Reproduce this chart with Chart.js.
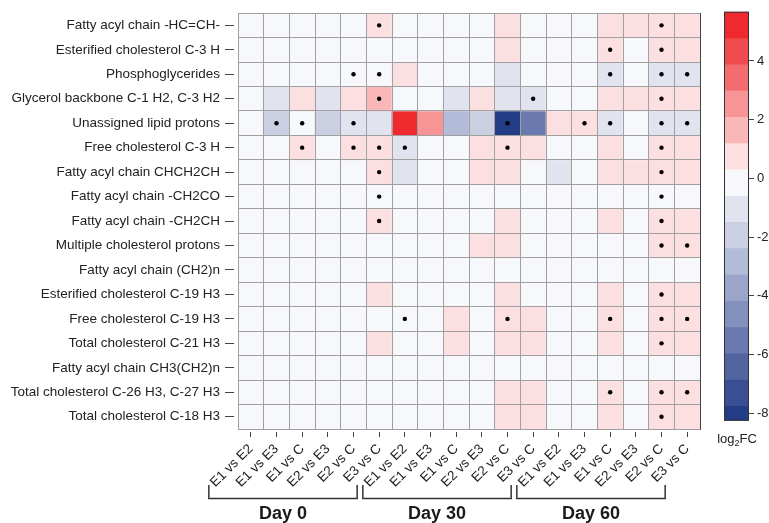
<!DOCTYPE html>
<html>
<head>
<meta charset="utf-8">
<title>log2FC heatmap</title>
<script src="https://cdn.jsdelivr.net/npm/chart.js@4.4.1/dist/chart.umd.min.js"></script>
<style>
  body { margin: 0; background: #fff; }
  #wrap { position: relative; width: 769px; height: 523px; overflow: hidden; font-family: "Liberation Sans", Arial, sans-serif; }
  #heat { position: absolute; left: 0; top: 0; }
  #scaleBar { position: absolute; left: 724px; top: 0; }
  #scaleTitle { position: absolute; left: 704px; width: 66px; top: 431px; text-align: center; font-size: 13px; color: #222; }
  #scaleTitle sub { font-size: 9px; vertical-align: -3px; line-height: 0; }
</style>
</head>
<body>
<div id="wrap">
  <canvas id="heat" width="769" height="523"></canvas>
  <canvas id="scaleBar" width="45" height="523"></canvas>
  <div id="scaleTitle">log<sub>2</sub>FC</div>
</div>
<script>
const rowNames = [
  "Fatty acyl chain -HC=CH-",
  "Esterified cholesterol C-3 H",
  "Phosphoglycerides",
  "Glycerol backbone C-1 H2, C-3 H2",
  "Unassigned lipid protons",
  "Free cholesterol C-3 H",
  "Fatty acyl chain CHCH2CH",
  "Fatty acyl chain -CH2CO",
  "Fatty acyl chain -CH2CH",
  "Multiple cholesterol protons",
  "Fatty acyl chain (CH2)n",
  "Esterified cholesterol C-19 H3",
  "Free cholesterol C-19 H3",
  "Total cholesterol C-21 H3",
  "Fatty acyl chain CH3(CH2)n",
  "Total cholesterol C-26 H3, C-27 H3",
  "Total cholesterol C-18 H3",
];

const days = ["Day 0", "Day 30", "Day 60"];
const comparisons = ["E1 vs E2", "E1 vs E3", "E1 vs C", "E2 vs E3", "E2 vs C", "E3 vs C"];

// log2 fold change, one row per lipid signal, 6 comparisons per day
const log2fc = [
  [0, 0, 0, 0, 0, 0.8,        0, 0, 0, 0, 0.8, 0,            0, 0, 0.8, 0.8, 0.9, 0.8],
  [0, 0, 0, 0, 0, 0,          0, 0, 0, 0, 0.7, 0,            0, 0, 0.8, 0, 0.9, 0.8],
  [0, 0, 0, 0, 0, 0,          0.7, 0, 0, 0, -0.9, 0,         0, 0, -0.9, 0, -0.9, -0.9],
  [0, -0.9, 0.7, -0.9, 0.8, 1.6, 0, 0, -0.9, 0.7, -1.0, -0.8, 0, 0, 0.8, 0.8, 0.9, 0.8],
  [0, -1.9, 0, -1.9, -1.0, -1.0, 5.3, 2.5, -2.8, -1.9, -8.0, -5.5, 0.7, 0.7, -0.9, 0, -0.9, -0.9],
  [0, 0, 0.7, 0, 0.8, 0.8,    -0.9, 0, 0, 0.7, 0.8, 0.7,     0, 0, 0.8, 0, 0.9, 0.8],
  [0, 0, 0, 0, 0, 0.8,        -0.9, 0, 0, 0.7, 0.8, 0,       -0.8, 0, 0.8, 0.8, 0.9, 0.8],
  [0, 0, 0, 0, 0, 0,          0, 0, 0, 0, 0, 0,              0, 0, 0, 0, 0, 0],
  [0, 0, 0, 0, 0, 0.8,        0, 0, 0, 0, 0.7, 0,            0, 0, 0.7, 0, 0.9, 0.8],
  [0, 0, 0, 0, 0, 0,          0, 0, 0, 0.7, 0.7, 0,          0, 0, 0, 0, 0.9, 0.9],
  [0, 0, 0, 0, 0, 0,          0, 0, 0, 0, 0, 0,              0, 0, 0, 0, 0, 0],
  [0, 0, 0, 0, 0, 0.7,        0, 0, 0, 0, 0.7, 0,            0, 0, 0.7, 0, 0.9, 0.8],
  [0, 0, 0, 0, 0, 0,          0, 0, 0.7, 0, 0.8, 0.7,        0, 0, 0.8, 0, 0.9, 0.9],
  [0, 0, 0, 0, 0, 0.7,        0, 0, 0.7, 0, 0.7, 0.7,        0, 0, 0.7, 0, 0.9, 0.8],
  [0, 0, 0, 0, 0, 0,          0, 0, 0, 0, 0, 0,              0, 0, 0, 0, 0, 0],
  [0, 0, 0, 0, 0, 0,          0, 0, 0, 0, 0.7, 0.7,          0, 0, 0.8, 0, 0.9, 0.9],
  [0, 0, 0, 0, 0, 0,          0, 0, 0, 0, 0.7, 0.7,          0, 0, 0.7, 0, 0.9, 0.8],
];

// columns (0-17) marked with a dot, per row
const significant = [
  [5, 16],
  [14, 16],
  [4, 5, 14, 16, 17],
  [5, 11, 16],
  [1, 2, 4, 10, 13, 14, 16, 17],
  [2, 4, 5, 6, 10, 16],
  [5, 16],
  [5, 16],
  [5, 16],
  [16, 17],
  [],
  [16],
  [6, 10, 14, 16, 17],
  [16],
  [],
  [14, 16, 17],
  [16],
];

// colour key
const scaleTop = 5.68;
const scaleBottom = -8.26;
const scaleStep = 0.895;
const scaleTicks = [-8, -6, -4, -2, 0, 2, 4];

const bandColors = [
  "#ee2a2e", "#f04a4e", "#f36d70", "#f69496", "#f9b7b8", "#fcdfe0", "#f7f8fb", "#e1e3ee",
  "#cacfe1", "#b2bbd7", "#9ba5c9", "#8390bc", "#6b7aae", "#5265a0", "#3a4f93", "#223c86",
];

const font = "'Liberation Sans', Arial, sans-serif";
const lineColor = "#444";
const gridColor = "#a0a0a0";
const textColor = "#222";

// unique keys so the dots can find their column
const columns = days.flatMap((day) => comparisons.map((c) => `${day}|${c}`));

function bandIndex(v) {
  const k = Math.floor((scaleTop - v) / scaleStep);
  return Math.min(bandColors.length - 1, Math.max(0, k));
}

//dots
const dotPoints = [];
significant.forEach((cols, r) => {
  cols.forEach((c) => dotPoints.push({ x: columns[c], y: r + 0.5 }));
});

//cells, one floating bar set per row
const cellSets = rowNames.map((name, r) => ({
  type: "bar",
  label: name,
  data: log2fc[r].map(() => [r, r + 1]),
  backgroundColor: log2fc[r].map((v) => bandColors[bandIndex(v)]),
  borderWidth: 0,
  grouped: false,
  barPercentage: 1,
  categoryPercentage: 1,
}));

const dayBrackets = {
  id: "dayBrackets",
  afterDraw(chart) {
    const { ctx, chartArea } = chart;
    const xs = chart.scales.x;
    ctx.save();
    ctx.strokeStyle = "#333";
    ctx.lineWidth = 1.5;
    ctx.fillStyle = "#1a1a1a";
    ctx.font = `bold 18px ${font}`;
    ctx.textAlign = "center";
    ctx.textBaseline = "middle";
    days.forEach((day, d) => {
      const x1 = xs.getPixelForValue(d * comparisons.length) - 42;
      const x2 = xs.getPixelForValue(d * comparisons.length + comparisons.length - 1) - 22;
      const yTop = chartArea.bottom + 56;
      const yLine = chartArea.bottom + 69.5;
      ctx.beginPath();
      ctx.moveTo(x1, yTop);
      ctx.lineTo(x1, yLine);
      ctx.lineTo(x2, yLine);
      ctx.lineTo(x2, yTop);
      ctx.stroke();
      ctx.fillText(day, (x1 + x2) / 2, chartArea.bottom + 85);
    });
    ctx.restore();
  },
};

new Chart(document.getElementById("heat"), {
  type: "bar",
  data: {
    labels: columns,
    datasets: [
      {
        type: "scatter",
        label: "significant",
        data: dotPoints,
        order: -1,
        pointRadius: 2.2,
        pointBackgroundColor: "#000",
        pointBorderWidth: 0,
      },
      ...cellSets,
    ],
  },
  options: {
    responsive: false,
    animation: false,
    layout: { padding: { top: 12.5, right: 69, bottom: 0, left: 0 } },
    plugins: { legend: { display: false }, tooltip: { enabled: false } },
    scales: {
      x: {
        type: "category",
        offset: true,
        z: 1,
        grid: { drawOnChartArea: false, offset: false, tickLength: 8, tickColor: lineColor, tickBorderDash: [0, 2, 6, 20], z: 1 },
        border: { display: true, color: lineColor, z: 1 },
        ticks: {
          autoSkip: false,
          minRotation: 45,
          maxRotation: 45,
          padding: 4,
          color: textColor,
          font: { size: 13.5, family: font },
          callback(value) {
            return this.getLabelForValue(value).split("|")[1];
          },
        },
        afterFit(scale) {
          scale.height = 94;
        },
      },
      y: {
        type: "linear",
        min: 0,
        max: rowNames.length,
        reverse: true,
        z: 1,
        afterBuildTicks(scale) {
          scale.ticks = rowNames.map((_, r) => ({ value: r + 0.5 }));
        },
        grid: { drawOnChartArea: false, tickLength: 13, tickColor: lineColor, tickBorderDash: [9, 20], z: 1 },
        border: { display: true, color: lineColor, z: 1 },
        ticks: {
          padding: 5,
          color: textColor,
          font: { size: 13.5, family: font },
          callback: (value) => rowNames[Math.floor(value)],
        },
        afterFit(scale) {
          scale.width = 238;
        },
      },
      // cell borders, drawn over the cells
      xg: {
        type: "linear",
        position: "top",
        min: 0,
        max: columns.length,
        offset: false,
        z: 1,
        ticks: { display: false, stepSize: 1 },
        grid: { color: gridColor, drawTicks: false, offset: false, z: 1 },
        border: { display: true, color: lineColor, z: 1 },
        afterFit(scale) {
          scale.height = 0;
        },
      },
      yg: {
        type: "linear",
        position: "right",
        min: 0,
        max: rowNames.length,
        reverse: true,
        offset: false,
        z: 1,
        ticks: { display: false, stepSize: 1 },
        grid: { color: gridColor, drawTicks: false, offset: false, z: 1 },
        border: { display: true, color: lineColor, z: 1 },
        afterFit(scale) {
          scale.width = 0;
        },
      },
    },
  },
  plugins: [dayBrackets],
});

//colour key
const keyFrame = {
  id: "keyFrame",
  afterDatasetsDraw(chart) {
    const { ctx, chartArea } = chart;
    ctx.save();
    ctx.strokeStyle = "#333";
    ctx.lineWidth = 1;
    ctx.strokeRect(chartArea.left + 0.5, chartArea.top + 0.5, chartArea.width - 1, chartArea.height - 1);
    ctx.restore();
  },
};

new Chart(document.getElementById("scaleBar"), {
  type: "bar",
  data: {
    labels: [""],
    datasets: bandColors.map((color, k) => ({
      data: [[Math.max(scaleTop - (k + 1) * scaleStep, scaleBottom), scaleTop - k * scaleStep]],
      backgroundColor: color,
      borderWidth: 0,
      grouped: false,
      barPercentage: 1,
      categoryPercentage: 1,
    })),
  },
  options: {
    responsive: false,
    animation: false,
    layout: { padding: { top: 11.7, bottom: 102.3, left: 0, right: 0 } },
    plugins: { legend: { display: false }, tooltip: { enabled: false } },
    scales: {
      x: { display: false },
      y: {
        position: "right",
        min: scaleBottom,
        max: scaleTop,
        afterBuildTicks(scale) {
          scale.ticks = scaleTicks.map((v) => ({ value: v }));
        },
        grid: { drawOnChartArea: false, tickLength: 5, tickColor: lineColor },
        border: { display: false },
        ticks: { padding: 3, color: textColor, font: { size: 13, family: font } },
        afterFit(scale) {
          scale.width = 20;
        },
      },
    },
  },
  plugins: [keyFrame],
});
</script>
</body>
</html>
